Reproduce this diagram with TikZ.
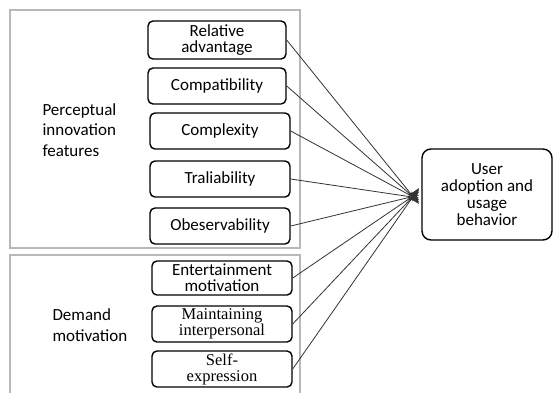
\documentclass[tikz,border=0pt]{standalone}
\usepackage{fontspec}
\setmainfont{Carlito}
\newfontfamily\serifalt{Liberation Serif}
\usetikzlibrary{arrows.meta}
\begin{document}
\begin{tikzpicture}[x=1pt,y=-1pt,
  itembox/.style={draw=black,line width=1.4pt,rounded corners=5pt,align=center,
    inner sep=1pt,font=\fontsize{17}{16}\selectfont},
  seriftext/.style={font=\serifalt\fontsize{16.5}{16}\selectfont},
  groupbox/.style={draw=black!28,line width=1.5pt},
  grouplabel/.style={align=left,anchor=west,font=\fontsize{17}{20.5}\selectfont},
  link/.style={draw=black!80,line width=0.8pt,-{Stealth[length=11pt,width=8pt]}}]
\useasboundingbox (0,0) rectangle (553,392);
% group frames
\draw[groupbox] (10,10) rectangle (300,248);
\draw[groupbox] (10,393) -- (10,255) -- (300,255) -- (300,393);
% group labels
\node[grouplabel] (plab) at (39,130) {Perceptual\\innovation\\features};
\node[grouplabel] (dlab) at (49,325) {Demand\\motivation};
% items
\node[itembox,minimum width=138pt,minimum height=38pt] (ra) at (217,40) {Relative\\advantage};
\node[itembox,minimum width=138pt,minimum height=36pt] (co) at (217,86) {Compatibility};
\node[itembox,minimum width=140pt,minimum height=36pt] (cx) at (220,131) {Complexity};
\node[itembox,minimum width=140pt,minimum height=36pt] (tr) at (220,179) {Traliability};
\node[itembox,minimum width=140pt,minimum height=36pt] (ob) at (220,226) {Obeservability};
\node[itembox,minimum width=140pt,minimum height=34pt] (en) at (222,278) {Entertainment\\motivation};
\node[itembox,seriftext,minimum width=140pt,minimum height=36pt] (mi) at (222,324) {Maintaining\\interpersonal};
\node[itembox,seriftext,minimum width=140pt,minimum height=36pt] (se) at (222,369) {Self-\\expression};
% outcome
\node[itembox,minimum width=130pt,minimum height=91pt,rounded corners=9pt,font=\fontsize{17}{17}\selectfont] (ub) at (487,194.5) {User\\adoption and\\usage\\behavior};
\coordinate (tip) at (419,195);
% links
\draw[link] (ra.east) -- ([yshift=-9pt]tip);
\draw[link] (co.east) -- ([yshift=-7pt]tip);
\draw[link] (cx.east) -- ([yshift=-5pt]tip);
\draw[link] (tr.east) -- ([yshift=-3pt]tip);
\draw[link] (ob.east) -- ([yshift=0pt]tip);
\draw[link] (en.east) -- ([yshift=3pt]tip);
\draw[link] (mi.east) -- ([yshift=5pt]tip);
\draw[link] (se.east) -- ([yshift=7pt]tip);
\end{tikzpicture}
\end{document}
